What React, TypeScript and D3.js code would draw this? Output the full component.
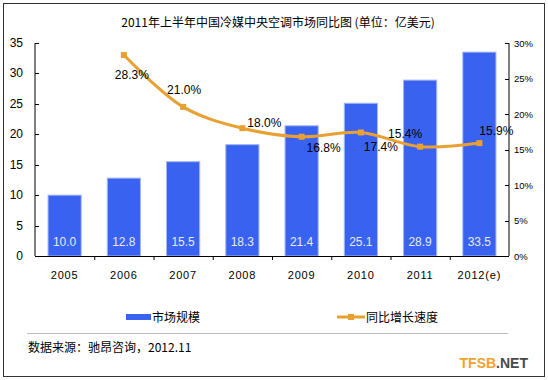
import React from "react";
import * as d3 from "d3";

const categories = ["2005", "2006", "2007", "2008", "2009", "2010", "2011", "2012(e)"];
const marketSize = [10.0, 12.8, 15.5, 18.3, 21.4, 25.1, 28.9, 33.5];
const growth: (number | null)[] = [null, 28.3, 21.0, 18.0, 16.8, 17.4, 15.4, 15.9];
const leftTicks = [0, 5, 10, 15, 20, 25, 30, 35];
const rightTicks = [0, 5, 10, 15, 20, 25, 30];
const labelOffsets: [number, number][] = [[0, 0], [8, 19], [1, -17], [22, -6], [22, 11], [20, 14], [-15, -13], [17, -13]];

const W = 548, H = 380;
const L = 35, R = 509, T = 43, B = 256;

export default function App() {
  const x = d3.scaleBand<string>().domain(categories).range([L, R]).paddingInner(0.44).paddingOuter(0.22);
  const xStep = d3.scaleBand<string>().domain(categories).range([L, R]);
  const yL = d3.scaleLinear().domain([0, 35]).range([B, T]);
  const yR = d3.scaleLinear().domain([0, 30]).range([B, T]);
  const orange = "#E9A033";
  const pts = growth
    .map((g, i) => (g == null ? null : { x: xStep(categories[i])! + xStep.bandwidth() / 2, y: yR(g), g, i }))
    .filter(Boolean) as { x: number; y: number; g: number; i: number }[];
  const line = d3.line<{ x: number; y: number }>().x(d => d.x).y(d => d.y).curve(d3.curveCatmullRom.alpha(0.5));
  const num = "'Liberation Sans', Arial, sans-serif";
  const cjk = "'Noto Sans CJK SC', sans-serif";
  return (
    <svg width={W} height={H} style={{ position: "absolute", left: 0, top: 0, background: "#fff" }}>
      <rect x={3.5} y={3.5} width={541} height={373} fill="#fff" stroke="#333" strokeWidth={1} />
      <text x={278} y={27} textAnchor="middle" fontFamily={cjk} fontSize={12} fill="#000">
        2011年上半年中国冷媒中央空调市场同比图 (单位：亿美元)
      </text>
      {/* bars */}
      {marketSize.map((v, i) => (
        <g key={i}>
          <rect x={x(categories[i])!} y={yL(v)} width={x.bandwidth()} height={B - yL(v)} fill="#3A62F0" stroke="#A5B8F2" strokeWidth={1} />
          <text x={x(categories[i])! + x.bandwidth() / 2} y={246} textAnchor="middle" fontFamily={num} fontSize={12} fill="#E4EBFF">
            {v.toFixed(1)}
          </text>
        </g>
      ))}
      {/* axes */}
      <line x1={L} y1={T} x2={L} y2={B} stroke="#000" />
      <line x1={R} y1={T} x2={R} y2={B} stroke="#000" />
      <line x1={L} y1={B + 0.5} x2={R} y2={B + 0.5} stroke="#000" />
      {leftTicks.map(t => (
        <g key={"l" + t}>
          <line x1={L} x2={L + 4} y1={Math.round(yL(t)) + 0.5} y2={Math.round(yL(t)) + 0.5} stroke="#000" />
          <text x={23} y={yL(t) + 4} textAnchor="end" fontFamily={num} fontSize={12} fill="#000">{t}</text>
        </g>
      ))}
      {rightTicks.map(t => (
        <g key={"r" + t}>
          <line x1={R - 4} x2={R} y1={Math.round(yR(t)) + 0.5} y2={Math.round(yR(t)) + 0.5} stroke="#000" />
          <text x={514} y={yR(t) + 3.5} fontFamily={num} fontSize={9.5} fill="#000">{t}%</text>
        </g>
      ))}
      {categories.map((c, i) =>
        i > 0 ? (
          <line key={"xt" + i} x1={xStep(c)! + 0.5} x2={xStep(c)! + 0.5} y1={B} y2={B + 4} stroke="#000" />
        ) : null
      )}
      {categories.map(c => (
        <text key={"xl" + c} x={xStep(c)! + xStep.bandwidth() / 2} y={279} textAnchor="middle" fontFamily={num} fontSize={11} letterSpacing={0.8} fill="#000">
          {c}
        </text>
      ))}
      {/* line */}
      <path d={line(pts) || ""} fill="none" stroke={orange} strokeWidth={3} />
      {pts.map(p => (
        <rect key={"m" + p.i} x={p.x - 3} y={p.y - 3} width={6} height={6} fill={orange} />
      ))}
      {pts.map(p => (
        <text key={"gl" + p.i} x={p.x + labelOffsets[p.i][0]} y={p.y + labelOffsets[p.i][1] + 4.5} textAnchor="middle" fontFamily={num} fontSize={12} fill="#000">
          {p.g.toFixed(1)}%
        </text>
      ))}
      {/* legend */}
      <rect x={126} y={314} width={25} height={6} fill="#3A62F0" />
      <text x={152} y={322} fontFamily={cjk} fontSize={12} fill="#000">市场规模</text>
      <line x1={337} x2={365} y1={317} y2={317} stroke={orange} strokeWidth={3} />
      <rect x={348} y={314} width={6} height={6} fill={orange} />
      <text x={366} y={322} fontFamily={cjk} fontSize={12} fill="#000">同比增长速度</text>
      <line x1={27} x2={508} y1={333.5} y2={333.5} stroke="#bbb" strokeWidth={1} />
      <text x={28} y={352} fontFamily={cjk} fontSize={12} fill="#000">数据来源：驰昂咨询，2012.11</text>
      <text x={528} y={368} textAnchor="end" fontFamily={num} fontSize={14} fontWeight="bold">
        <tspan fill="#F2A22E">TFSB</tspan>
        <tspan fill="#4A4A4A">.NET</tspan>
      </text>
    </svg>
  );
}
